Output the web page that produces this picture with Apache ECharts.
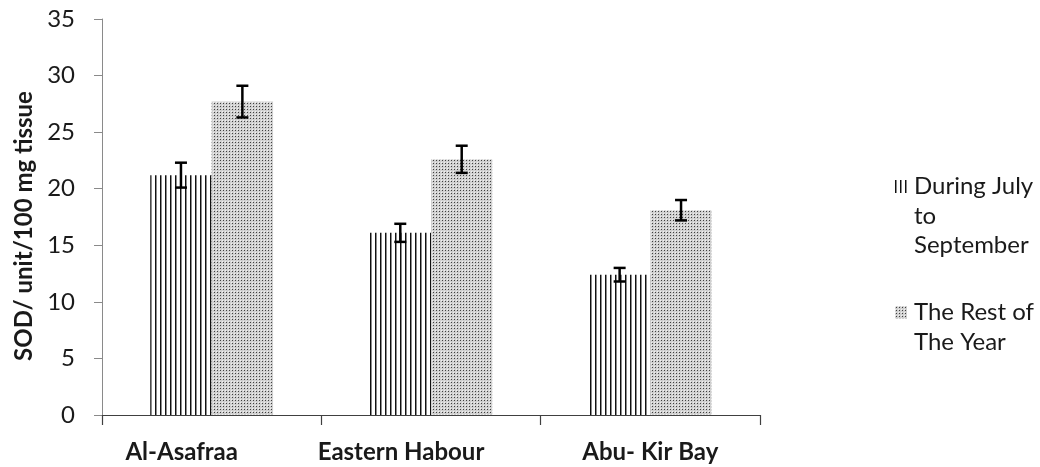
<!DOCTYPE html>
<html>
<head>
<meta charset="utf-8">
<script src="https://cdn.jsdelivr.net/npm/echarts@6/dist/echarts.min.js"></script>
<style>
  html, body { margin: 0; padding: 0; background: #fff; }
  #chart { width: 1040px; height: 467px; }
</style>
</head>
<body>
<div id="chart"></div>
<script>
// Sampling sites
const sites = ['Al-Asafraa', 'Eastern Habour', 'Abu- Kir Bay'];
// SOD activity (unit / 100 mg tissue)
const julyToSeptember = [21.2, 16.1, 12.4];
const restOfYear = [27.7, 22.6, 18.1];
// Standard error for each bar
const julyToSeptemberErr = [1.1, 0.8, 0.6];
const restOfYearErr = [1.4, 1.2, 0.9];
// Legend wording, one entry per line
const legendLines = [['During July', 'to', 'September'], ['The Rest of', 'The Year']];
const seriesNames = legendLines.map(l => l.join(' '));
const yTicks = [0, 5, 10, 15, 20, 25, 30, 35];

const FONT = 'Lato, "Open Sans", sans-serif';
const TEXT = '#1a1a1a';

// Vertical hatching fill
function stripeCanvas() {
  const c = document.createElement('canvas');
  c.width = 5; c.height = 4;
  const g = c.getContext('2d');
  g.fillStyle = '#ffffff'; g.fillRect(0, 0, 5, 4);
  g.fillStyle = '#111111'; g.fillRect(0, 0, 1, 4);
  g.fillStyle = '#8c8c8c'; g.fillRect(1, 0, 1, 4);
  return c;
}
// Fine stippled grey fill
function dotCanvas() {
  const c = document.createElement('canvas');
  c.width = 3; c.height = 3;
  const g = c.getContext('2d');
  g.fillStyle = '#d0d0d0'; g.fillRect(0, 0, 3, 3);
  g.fillStyle = '#f0f0f0'; g.fillRect(0, 0, 1, 1);
  g.fillStyle = '#404040'; g.fillRect(1, 1, 1, 1);
  return c;
}
const stripeFill = { image: stripeCanvas(), repeat: 'repeat' };
const dotFill = { image: dotCanvas(), repeat: 'repeat' };

const GAP = 0.44; // barCategoryGap fraction

function errorSeries(values, errs, side) {
  return {
    type: 'custom',
    silent: true,
    z: 5,
    data: values.map((v, i) => [i, v - errs[i], v + errs[i]]),
    renderItem: function (params, api) {
      const i = api.value(0);
      const lo = api.coord([i, api.value(1)]);
      const hi = api.coord([i, api.value(2)]);
      const band = api.size([1, 0])[0];
      const barW = band * (1 - GAP) / 2;
      const x = lo[0] + side * barW / 2;
      const cap = 6;
      const st = { stroke: '#000', lineWidth: 2.5 };
      return {
        type: 'group',
        children: [
          { type: 'line', shape: { x1: x, y1: lo[1], x2: x, y2: hi[1] }, style: st },
          { type: 'line', shape: { x1: x - cap, y1: lo[1], x2: x + cap, y2: lo[1] }, style: st },
          { type: 'line', shape: { x1: x - cap, y1: hi[1], x2: x + cap, y2: hi[1] }, style: st }
        ]
      };
    },
    encode: { x: 0, y: [1, 2] }
  };
}

const chart = echarts.init(document.getElementById('chart'), null, { renderer: 'canvas' });

const legendGraphics = [];
const legendFills = [stripeFill, dotFill];
const legendTops = [172, 298];
legendLines.forEach((lines, k) => {
  legendGraphics.push({
    type: 'rect', left: 895, top: legendTops[k] + 8,
    shape: { width: 12, height: 13 },
    style: { fill: legendFills[k] }
  });
  legendGraphics.push({
    type: 'text', left: 914, top: legendTops[k],
    style: {
      text: lines.join('\n'),
      font: '24px ' + FONT,
      lineHeight: 29.5,
      fill: TEXT
    }
  });
});

chart.setOption({
  animation: false,
  backgroundColor: '#ffffff',
  grid: { left: 102, right: 280, top: 19, bottom: 52, containLabel: false },
  xAxis: {
    type: 'category',
    data: sites,
    axisLine: { lineStyle: { color: '#404040', width: 1.2 } },
    axisTick: { show: true, length: 10, alignWithLabel: false, lineStyle: { color: '#404040', width: 1.2 } },
    axisLabel: {
      margin: 25,
      interval: 0,
      formatter: (v, i) => i < 2 ? '{s|' + v + '}' : '{c|' + v + '}',
      rich: {
        s: { fontFamily: FONT, fontSize: 24, fontWeight: 'bold', color: TEXT, padding: [0, 60, 0, 0] },
        c: { fontFamily: FONT, fontSize: 24, fontWeight: 'bold', color: TEXT }
      }
    }
  },
  yAxis: {
    type: 'value',
    min: yTicks[0],
    max: yTicks[yTicks.length - 1],
    interval: yTicks[1] - yTicks[0],
    name: 'SOD/ unit/100 mg tissue',
    nameLocation: 'middle',
    nameGap: 64,
    nameTextStyle: { fontFamily: FONT, fontSize: 24, fontWeight: 'bold', color: TEXT, padding: [0, 18, 0, 0] },
    axisLine: { show: true, lineStyle: { color: '#8a8a8a', width: 1 } },
    axisTick: { show: true, length: 8, lineStyle: { color: '#8a8a8a' } },
    splitLine: { show: false },
    axisLabel: { margin: 27, fontFamily: FONT, fontSize: 24, color: TEXT }
  },
  graphic: legendGraphics,
  series: [
    {
      name: seriesNames[0], type: 'bar', data: julyToSeptember,
      barGap: '0%', barCategoryGap: (GAP * 100) + '%',
      itemStyle: { color: stripeFill }
    },
    {
      name: seriesNames[1], type: 'bar', data: restOfYear,
      barGap: '0%', barCategoryGap: (GAP * 100) + '%',
      itemStyle: { color: dotFill }
    },
    errorSeries(julyToSeptember, julyToSeptemberErr, -1),
    errorSeries(restOfYear, restOfYearErr, 1)
  ]
});
</script>
</body>
</html>
